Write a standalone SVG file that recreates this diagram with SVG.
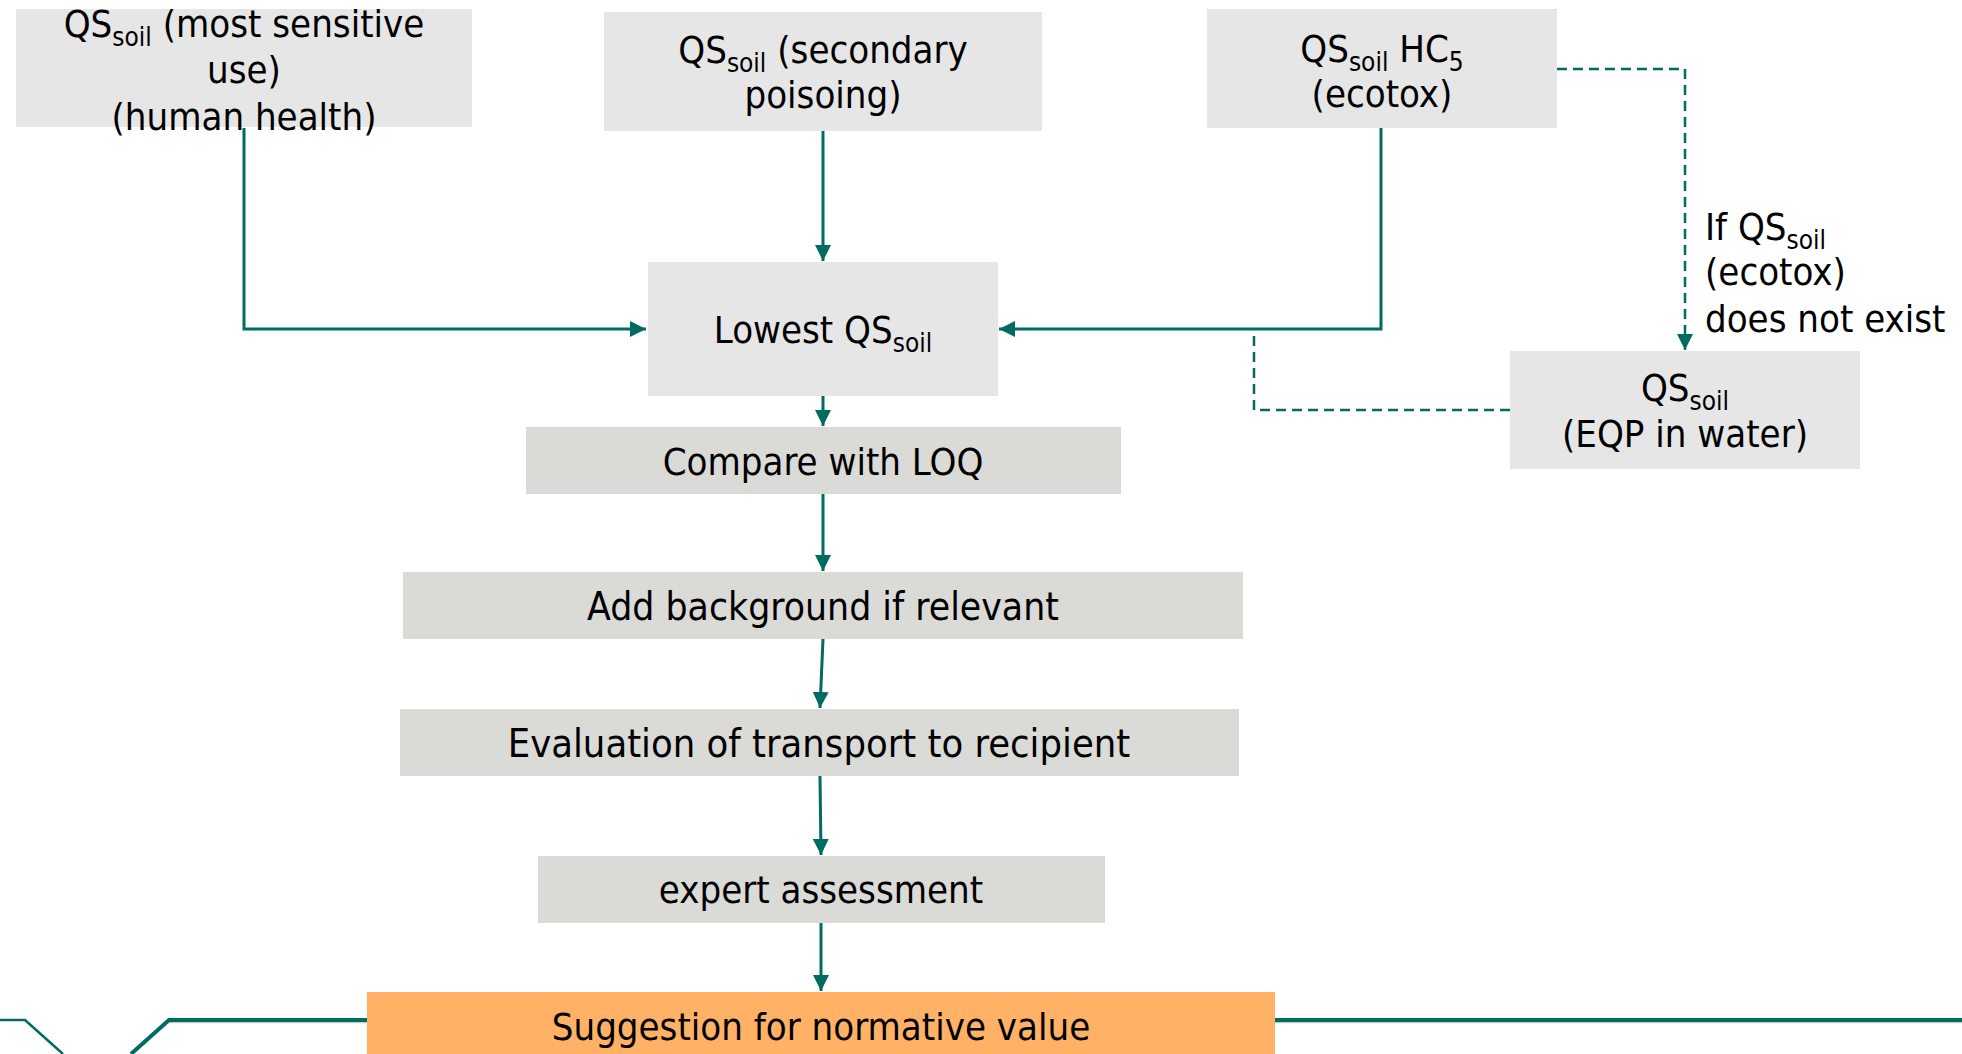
<svg xmlns="http://www.w3.org/2000/svg" width="1962" height="1054" viewBox="0 0 1962 1054">
<style>
text{font-family:"DejaVu Sans Condensed","DejaVu Sans",sans-serif;font-stretch:condensed;font-size:38px;fill:#000}
.c{text-anchor:middle}
.sub{font-size:26px}
.top{fill:#e6e6e6}
.proc{fill:#dadad6}
.out{fill:#ffb266}
.ln{fill:none;stroke:#006b61;stroke-width:3}
.dl{fill:none;stroke:#006b61;stroke-width:2.5;stroke-dasharray:10 6}
.deco{fill:none;stroke:#006b61;stroke-width:4}
.deco2{fill:none;stroke:#006b61;stroke-width:2.5}
</style>
<defs>
<marker id="ah" viewBox="0 0 10 10" refX="10" refY="5" markerWidth="16" markerHeight="16" markerUnits="userSpaceOnUse" orient="auto">
<path d="M0,0 L10,5 L0,10 z" fill="#006b61"/>
</marker>
</defs>
<rect width="1962" height="1054" fill="#fff"/>
<g id="decoration">
<path d="M169,1022.5 H1962" stroke="#c9c9c9" stroke-width="1.5" fill="none"/>
<path d="M0,1020 H25 L63,1054" class="deco2"/>
<path d="M131,1054 L169,1020 H1962" class="deco"/>
</g>
<g id="connectors">
<path d="M244,128 V329 H646" class="ln" marker-end="url(#ah)"/>
<path d="M823,131 V261" class="ln" marker-end="url(#ah)"/>
<path d="M1381,128 V329 H999" class="ln" marker-end="url(#ah)"/>
<path d="M1557,69 H1685 V350" class="dl" marker-end="url(#ah)"/>
<path d="M1510,410 H1254 V329" class="dl"/>
<path d="M823,396 V426" class="ln" marker-end="url(#ah)"/>
<path d="M823,494 V571" class="ln" marker-end="url(#ah)"/>
<path d="M823,639 L820,708" class="ln" marker-end="url(#ah)"/>
<path d="M820,776 L821,855" class="ln" marker-end="url(#ah)"/>
<path d="M821,923 V991" class="ln" marker-end="url(#ah)"/>
</g>
<g id="node-human">
<rect x="16" y="9" width="456" height="118" class="top"/>
<text x="244" y="37" class="c">QS<tspan class="sub" dy="9">soil</tspan><tspan dy="-9"> (most sensitive</tspan></text>
<text x="244" y="83" class="c">use)</text>
<text x="244" y="130" class="c">(human health)</text>
</g>
<g id="node-secondary">
<rect x="604" y="12" width="438" height="119" class="top"/>
<text x="823" y="63" class="c">QS<tspan class="sub" dy="9">soil</tspan><tspan dy="-9"> (secondary</tspan></text>
<text x="823" y="108" class="c">poisoing)</text>
</g>
<g id="node-ecotox">
<rect x="1207" y="9" width="350" height="119" class="top"/>
<text x="1382" y="62" class="c">QS<tspan class="sub" dy="9">soil</tspan><tspan dy="-9"> HC</tspan><tspan class="sub" dy="9">5</tspan></text>
<text x="1382" y="107" class="c">(ecotox)</text>
</g>
<g id="label-condition">
<text x="1705" y="240">If QS<tspan class="sub" dy="9">soil</tspan></text>
<text x="1705" y="285">(ecotox)</text>
<text x="1705" y="332">does not exist</text>
</g>
<g id="node-eqp">
<rect x="1510" y="351" width="350" height="118" class="top"/>
<text x="1685" y="401" class="c">QS<tspan class="sub" dy="9">soil</tspan></text>
<text x="1685" y="447" class="c">(EQP in water)</text>
</g>
<g id="node-lowest">
<rect x="648" y="262" width="350" height="134" class="top"/>
<text x="823" y="343" class="c">Lowest QS<tspan class="sub" dy="9">soil</tspan></text>
</g>
<g id="node-compare">
<rect x="526" y="427" width="595" height="67" class="proc"/>
<text x="823" y="475" class="c">Compare with LOQ</text>
</g>
<g id="node-background">
<rect x="403" y="572" width="840" height="67" class="proc"/>
<text x="823" y="620" class="c" style="font-size:38.7px">Add background if relevant</text>
</g>
<g id="node-transport">
<rect x="400" y="709" width="839" height="67" class="proc"/>
<text x="819" y="757" class="c" style="font-size:39.5px">Evaluation of transport to recipient</text>
</g>
<g id="node-expert">
<rect x="538" y="856" width="567" height="67" class="proc"/>
<text x="821" y="903" class="c">expert assessment</text>
</g>
<g id="node-suggestion">
<rect x="367" y="992" width="908" height="62" class="out"/>
<text x="821" y="1040" class="c">Suggestion for normative value</text>
</g>
</svg>
